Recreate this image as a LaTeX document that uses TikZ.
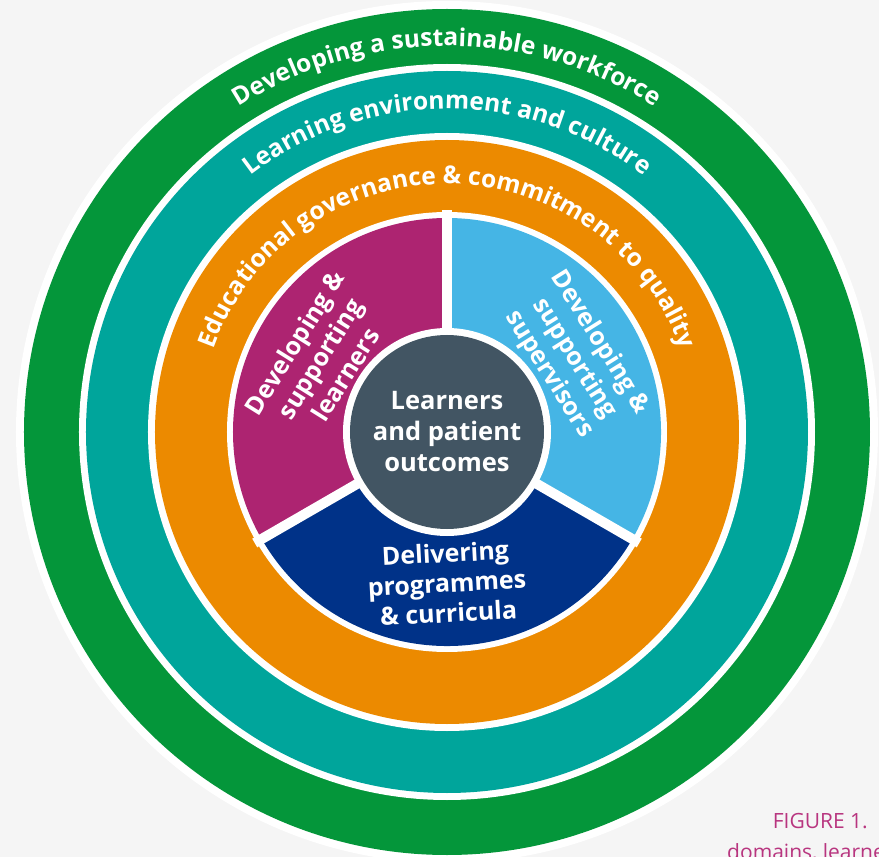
\documentclass[tikz,border=0pt]{standalone}
\usepackage{fontspec}
\setmainfont{Open Sans}
\usetikzlibrary{decorations.text}

\definecolor{bgGrey}{HTML}{F5F5F5}
\definecolor{ringGreen}{HTML}{04963A}
\definecolor{ringTeal}{HTML}{00A59B}
\definecolor{ringOrange}{HTML}{EC8A00}
\definecolor{pieMagenta}{HTML}{AD2471}
\definecolor{pieBlue}{HTML}{45B5E5}
\definecolor{pieNavy}{HTML}{003288}
\definecolor{hubSlate}{HTML}{425563}
\definecolor{capPink}{HTML}{B8357F}

\newcommand{\ringfont}{\fontsize{24.6}{25}\selectfont\bfseries}

\begin{document}
\begin{tikzpicture}[
    sectortext/.style={text=white,align=center,inner sep=0pt,
      font=\fontsize{25}{30}\selectfont\bfseries},
    ringtext/.style={decorate,decoration={text along path,
      text align=center,text color=white}}]
      % Rahmen
      \useasboundingbox (-447pt,-425pt) rectangle (432pt,432pt);
      \clip (-447pt,-425pt) rectangle (432pt,432pt);
      \fill[bgGrey] (-447pt,-425pt) rectangle (432pt,432pt);
      % Ringe
      \fill[white] (0,0) circle[radius=431pt];
      \fill[ringGreen] (0,0) circle[radius=423pt];
      \fill[white] (0,0) circle[radius=368pt];
      \fill[ringTeal] (0,0) circle[radius=361pt];
      \fill[white] (0,0) circle[radius=299pt];
      \fill[ringOrange] (0,0) circle[radius=292pt];
      \fill[white] (0,0) circle[radius=220pt];
      % Sektoren
      \fill[pieMagenta] (0,0) -- (90:214pt) arc[start angle=90,end angle=210,radius=214pt] -- cycle;
      \fill[pieNavy] (0,0) -- (210:214pt) arc[start angle=210,end angle=330,radius=214pt] -- cycle;
      \fill[pieBlue] (0,0) -- (330:214pt) arc[start angle=330,end angle=450,radius=214pt] -- cycle;
      \foreach \a in {90,210,330}
        \draw[white,line width=10pt] (0,0) -- (\a:222pt);
      \fill[white] (0,0) circle[radius=104pt];
      % Texte auf den Ringen
      \path[ringtext,decoration={text={|\ringfont|Developing a sustainable workforce}}]
        (180:386pt) arc[start angle=180,end angle=0,radius=386pt];
      \path[ringtext,decoration={text={|\ringfont|Learning environment and culture}}]
        (180:323pt) arc[start angle=180,end angle=0,radius=323pt];
      \path[ringtext,decoration={text={|\ringfont|Educational governance {\&} commitment to quality}}]
        (180:248pt) arc[start angle=180,end angle=0,radius=248pt];
      % Nodos
      \node[circle,fill=hubSlate,minimum size=194pt,inner sep=0pt] (hubdisc) at (0,0) {};
      \node[text=white,align=center,font=\fontsize{25.5}{31}\selectfont\bfseries] (hub) at (0,0)
        {Learners\\and patient\\outcomes};
      \node[sectortext,rotate=58] (learners) at (150:147pt) {Developing \&\\supporting\\learners};
      \node[sectortext,rotate=-58] (supervisors) at (30:147pt) {Developing \&\\supporting\\supervisors};
      \node[sectortext,rotate=3] (curricula) at (270:151pt) {Delivering\\programmes\\\& curricula};
      % Bildunterschrift
      \node[anchor=base east,text=capPink,font=\fontsize{21}{21}\selectfont,inner sep=0pt]
        (figlabel) at (421pt,-396pt) {FIGURE 1.};
      \node[anchor=base west,text=capPink,font=\fontsize{21}{21}\selectfont,inner sep=0pt]
        (figtext) at (280pt,-427pt) {domains, learne};
    \end{tikzpicture}
\end{document}
